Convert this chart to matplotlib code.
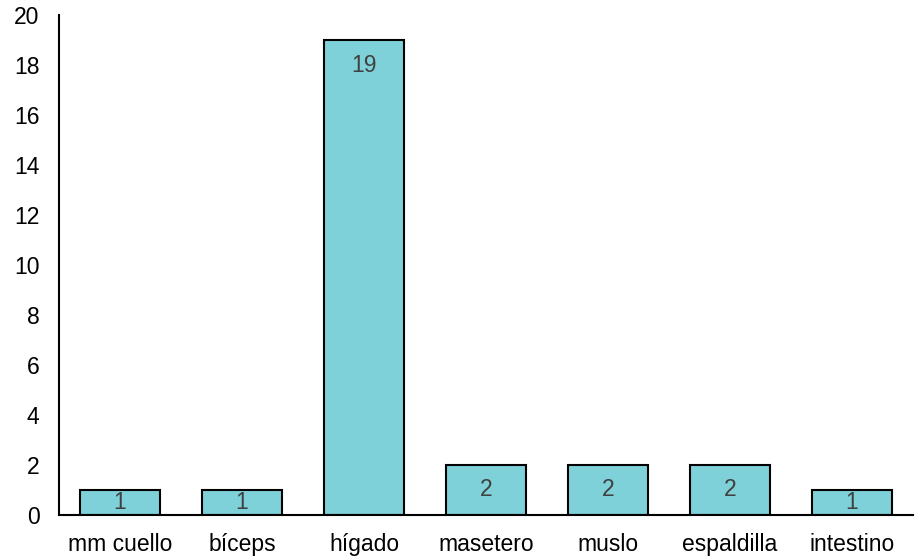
import matplotlib
matplotlib.use("Agg")
import matplotlib.pyplot as plt

partes = ["mm cuello", "bíceps", "hígado", "masetero", "muslo", "espaldilla", "intestino"]
casos = [1, 1, 19, 2, 2, 2, 1]
yticks = [0, 2, 4, 6, 8, 10, 12, 14, 16, 18, 20]

plt.rcParams['font.family'] = ['Liberation Sans', 'DejaVu Sans']

fig = plt.figure(figsize=(9.17, 5.6), dpi=100)
ax = fig.add_axes([0.0643, 0.0804, 0.9313, 0.8926])

x = range(len(partes))
ax.bar(x, casos, width=0.66, color="#7FD1D9", edgecolor="black", linewidth=1.5)

# etiquetas dentro de la barra, cerca del extremo
for i, v in zip(x, casos):
    ax.text(i, max(v - 1.0, v / 2.0), str(v), ha="center", va="center",
            fontsize=16.5, color="#404040")

ax.set_xlim(-0.5, len(partes) - 0.5)
ax.set_ylim(0, 20)
ax.set_yticks(yticks)
ax.set_xticks(list(x))
ax.set_xticklabels(partes)
ax.tick_params(length=0, labelsize=16.5, colors="black")
ax.tick_params(axis="y", pad=14)
ax.tick_params(axis="x", pad=13)

for s in ["top", "right"]:
    ax.spines[s].set_visible(False)
ax.spines["left"].set_linewidth(1.5)
ax.spines["bottom"].set_linewidth(1.5)

fig.savefig("out.png", dpi=100)
